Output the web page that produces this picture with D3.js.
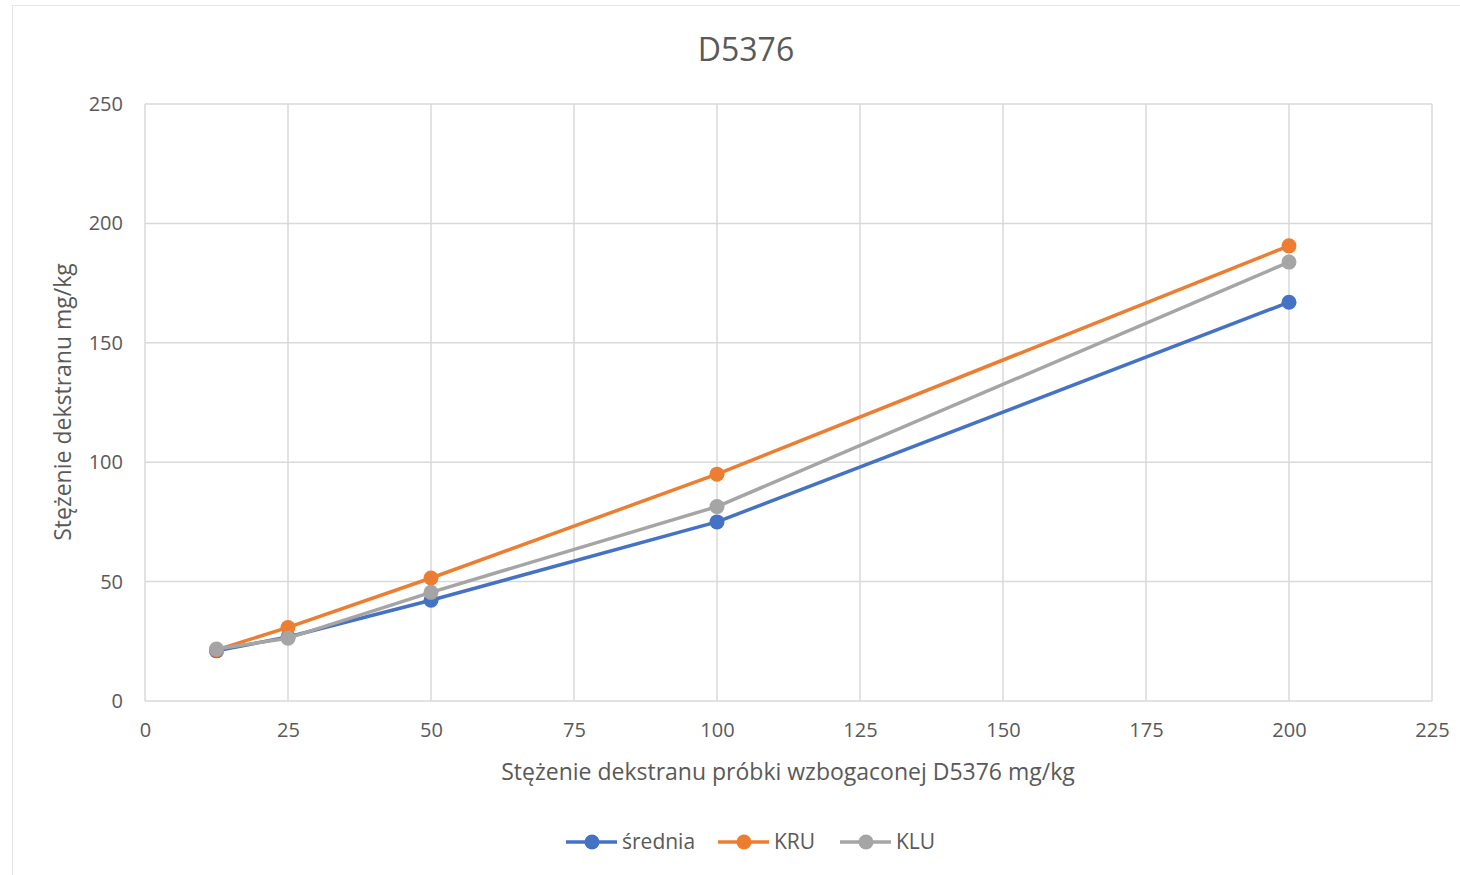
<!DOCTYPE html>
<html>
<head>
<meta charset="utf-8">
<script src="https://cdn.jsdelivr.net/npm/d3@7"></script>
<style>
  body { margin: 0; background: #fff; }
  text { font-family: "Open Sans", "Liberation Sans", sans-serif; fill: #595959; }
</style>
</head>
<body>
<div id="chart"></div>
<script>
// data
const xValues = [12.5, 25, 50, 100, 200]
const sredniaValues = [21, 26.8, 42.2, 75, 167]
const kruValues = [21.4, 30.8, 51.5, 95, 190.6]
const kluValues = [21.8, 26.3, 45.5, 81.4, 183.8]
const seriesNames = ['średnia', 'KRU', 'KLU']
const seriesColors = ['#4472C4', '#ED7D31', '#A5A5A5']
const xTicks = [0, 25, 50, 75, 100, 125, 150, 175, 200, 225]
const yTicks = [0, 50, 100, 150, 200, 250]

var width = 1460,
  height = 875

var margin = { top: 104, right: 28, bottom: 174, left: 145 }

var svg = d3.select('#chart').append('svg')
  .attr('width', width)
  .attr('height', height)

// chart frame
svg.append('rect')
  .attr('x', 12.5).attr('y', 5.5)
  .attr('width', width).attr('height', height)
  .style('fill', 'none')
  .style('stroke', '#e6e6e6')

var x = d3.scaleLinear()
  .domain([0, 225])
  .range([margin.left, width - margin.right])

var y = d3.scaleLinear()
  .domain([0, 250])
  .range([height - margin.bottom, margin.top])

// gridlines
svg.append('g')
  .selectAll('line.v')
  .data(xTicks)
  .enter().append('line')
  .attr('x1', d => x(d)).attr('x2', d => x(d))
  .attr('y1', y(0)).attr('y2', y(250))
  .style('stroke', '#d9d9d9')
  .style('stroke-width', 1.5)

svg.append('g')
  .selectAll('line.h')
  .data(yTicks)
  .enter().append('line')
  .attr('x1', x(0)).attr('x2', x(225))
  .attr('y1', d => y(d)).attr('y2', d => y(d))
  .style('stroke', '#d9d9d9')
  .style('stroke-width', 1.5)

// axes (labels only)
var xAxis = d3.axisBottom(x).tickValues(xTicks).tickSize(0).tickPadding(22)
var yAxis = d3.axisLeft(y).tickValues(yTicks).tickSize(0).tickPadding(22)

var gx = svg.append('g')
  .attr('transform', 'translate(0,' + y(0) + ')')
  .call(xAxis)
gx.select('.domain').remove()
gx.selectAll('text').style('font-size', '20px').style('fill', '#595959')

var gy = svg.append('g')
  .attr('transform', 'translate(' + x(0) + ',0)')
  .call(yAxis)
gy.select('.domain').remove()
gy.selectAll('text').style('font-size', '20px').style('fill', '#595959')

// series lines + markers
var allSeries = [sredniaValues, kruValues, kluValues]

var line = d3.line()
  .x((d, i) => x(xValues[i]))
  .y(d => y(d))

allSeries.forEach(function (values, s) {
  svg.append('path')
    .datum(values)
    .attr('d', line)
    .style('fill', 'none')
    .style('stroke', seriesColors[s])
    .style('stroke-width', 3.5)
    .style('stroke-linejoin', 'round')

  svg.append('g')
    .selectAll('circle')
    .data(values)
    .enter().append('circle')
    .attr('cx', (d, i) => x(xValues[i]))
    .attr('cy', d => y(d))
    .attr('r', 7.5)
    .style('fill', seriesColors[s])
})

// title
svg.append('text')
  .attr('x', 746).attr('y', 61)
  .attr('text-anchor', 'middle')
  .style('font-size', '32px')
  .text('D5376')

// axis titles
svg.append('text')
  .attr('x', 788).attr('y', 780)
  .attr('text-anchor', 'middle')
  .style('font-size', '23px')
  .text('Stężenie dekstranu próbki wzbogaconej D5376 mg/kg')

svg.append('text')
  .attr('transform', 'translate(71,402) rotate(-90)')
  .attr('text-anchor', 'middle')
  .style('font-size', '23px')
  .text('Stężenie dekstranu mg/kg')

// legend
var legendX = [566, 718, 840]
var legend = svg.append('g')
seriesNames.forEach(function (name, s) {
  var lx = legendX[s], ly = 842
  legend.append('line')
    .attr('x1', lx).attr('x2', lx + 51)
    .attr('y1', ly).attr('y2', ly)
    .style('stroke', seriesColors[s])
    .style('stroke-width', 3.5)
  legend.append('circle')
    .attr('cx', lx + 26).attr('cy', ly)
    .attr('r', 7.5)
    .style('fill', seriesColors[s])
  legend.append('text')
    .attr('x', lx + 56).attr('y', ly + 7)
    .style('font-size', '21px')
    .text(name)
})
</script>
</body>
</html>
